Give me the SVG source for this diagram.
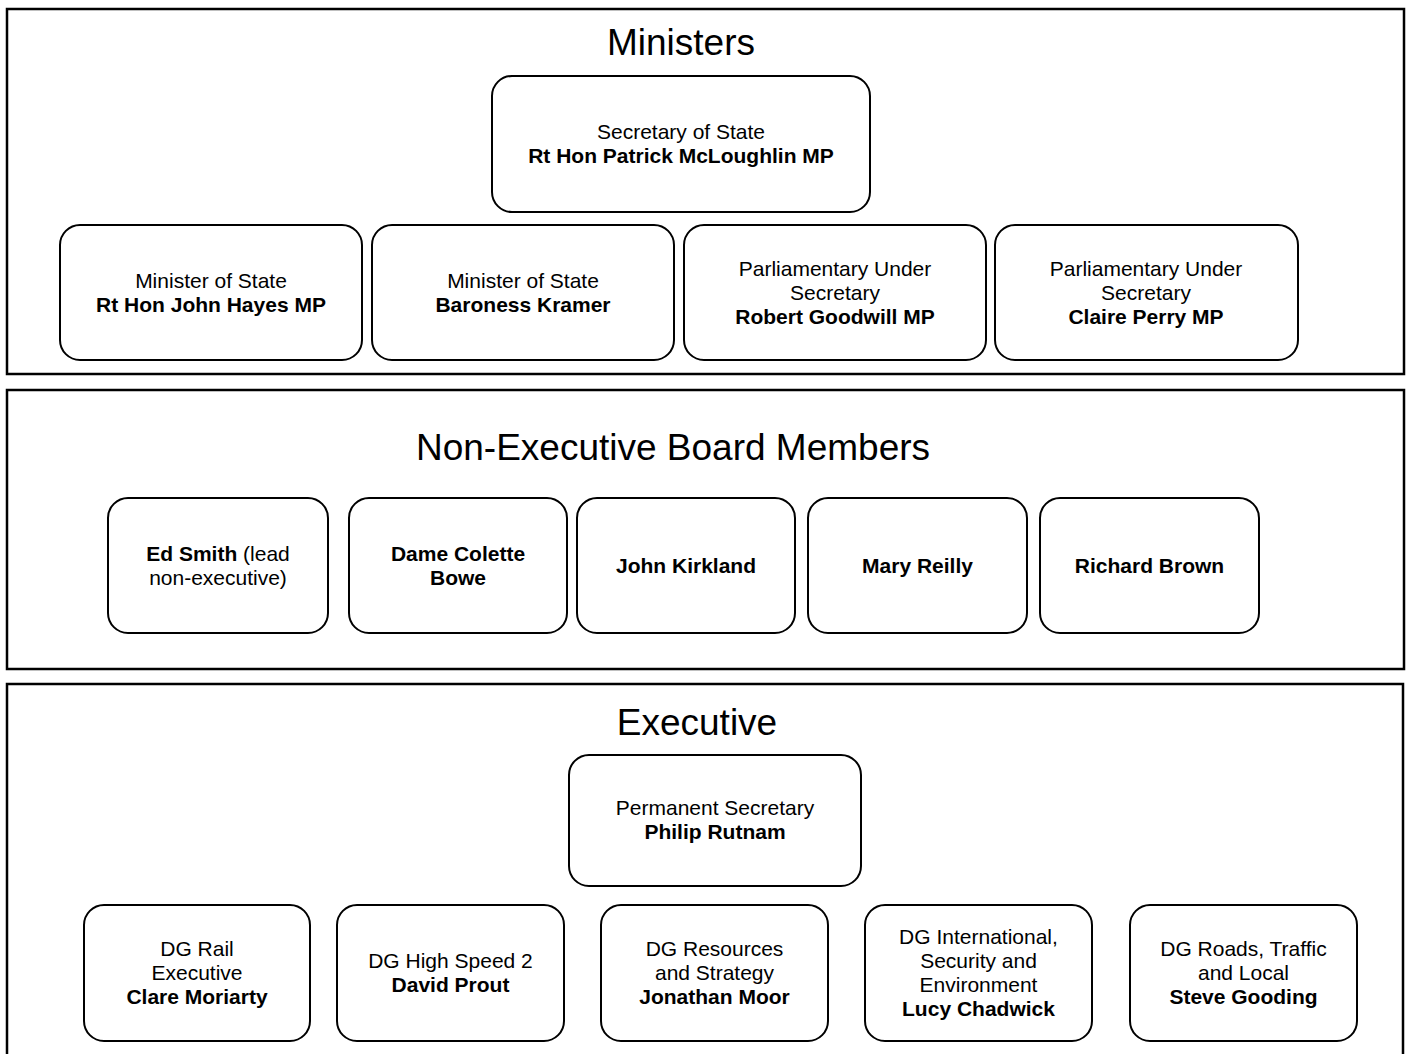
<svg xmlns="http://www.w3.org/2000/svg" width="1410" height="1054" viewBox="0 0 1410 1054">
<style>
.frame{fill:#fff;stroke:#000;stroke-width:2.5}
.box{fill:#fff;stroke:#000;stroke-width:2}
text{font-family:"Liberation Sans",Arial,sans-serif;fill:#000;text-anchor:middle}
.title{font-size:37px}
.t{font-size:21px}
.b{font-weight:bold}
</style>
<rect width="1410" height="1054" fill="#fff"/>
<g id="frames">
<rect class="frame" x="7" y="9" width="1397" height="365"/>
<rect class="frame" x="7" y="390" width="1397" height="279"/>
<rect class="frame" x="7" y="684" width="1396" height="400"/>
<text class="title" x="681" y="55">Ministers</text>
<text class="title" x="673" y="460">Non-Executive Board Members</text>
<text class="title" x="697" y="735">Executive</text>
</g>
<g id="connectors"></g>
<g id="sos"><rect class="box" x="492" y="76" width="378" height="136" rx="20"/>
<text class="t" x="681" y="139">Secretary of State</text><text class="t b" x="681" y="163">Rt Hon Patrick McLoughlin MP</text></g>
<g id="hayes"><rect class="box" x="60" y="225" width="302" height="135" rx="20"/>
<text class="t" x="211" y="288">Minister of State</text><text class="t b" x="211" y="312">Rt Hon John Hayes MP</text></g>
<g id="kramer"><rect class="box" x="372" y="225" width="302" height="135" rx="20"/>
<text class="t" x="523" y="288">Minister of State</text><text class="t b" x="523" y="312">Baroness Kramer</text></g>
<g id="goodwill"><rect class="box" x="684" y="225" width="302" height="135" rx="20"/>
<text class="t" x="835" y="276">Parliamentary Under</text><text class="t" x="835" y="300">Secretary</text><text class="t b" x="835" y="324">Robert Goodwill MP</text></g>
<g id="perry"><rect class="box" x="995" y="225" width="303" height="135" rx="20"/>
<text class="t" x="1146" y="276">Parliamentary Under</text><text class="t" x="1146" y="300">Secretary</text><text class="t b" x="1146" y="324">Claire Perry MP</text></g>
<g id="smith"><rect class="box" x="108" y="498" width="220" height="135" rx="20"/>
<text class="t" x="218" y="561"><tspan class="b">Ed Smith</tspan> (lead</text><text class="t" x="218" y="585">non-executive)</text></g>
<g id="bowe"><rect class="box" x="349" y="498" width="218" height="135" rx="20"/>
<text class="t b" x="458" y="561">Dame Colette</text><text class="t b" x="458" y="585">Bowe</text></g>
<g id="kirkland"><rect class="box" x="577" y="498" width="218" height="135" rx="20"/>
<text class="t b" x="686" y="573">John Kirkland</text></g>
<g id="reilly"><rect class="box" x="808" y="498" width="219" height="135" rx="20"/>
<text class="t b" x="917.5" y="573">Mary Reilly</text></g>
<g id="brown"><rect class="box" x="1040" y="498" width="219" height="135" rx="20"/>
<text class="t b" x="1149.5" y="573">Richard Brown</text></g>
<g id="permsec"><rect class="box" x="569" y="755" width="292" height="131" rx="20"/>
<text class="t" x="715" y="815">Permanent Secretary</text><text class="t b" x="715" y="839">Philip Rutnam</text></g>
<g id="moriarty"><rect class="box" x="84" y="905" width="226" height="136" rx="20"/>
<text class="t" x="197" y="956">DG Rail</text><text class="t" x="197" y="980">Executive</text><text class="t b" x="197" y="1004">Clare Moriarty</text></g>
<g id="prout"><rect class="box" x="337" y="905" width="227" height="136" rx="20"/>
<text class="t" x="450.5" y="968">DG High Speed 2</text><text class="t b" x="450.5" y="992">David Prout</text></g>
<g id="moor"><rect class="box" x="601" y="905" width="227" height="136" rx="20"/>
<text class="t" x="714.5" y="956">DG Resources</text><text class="t" x="714.5" y="980">and Strategy</text><text class="t b" x="714.5" y="1004">Jonathan Moor</text></g>
<g id="chadwick"><rect class="box" x="865" y="905" width="227" height="136" rx="20"/>
<text class="t" x="978.5" y="944">DG International,</text><text class="t" x="978.5" y="968">Security and</text><text class="t" x="978.5" y="992">Environment</text><text class="t b" x="978.5" y="1016">Lucy Chadwick</text></g>
<g id="gooding"><rect class="box" x="1130" y="905" width="227" height="136" rx="20"/>
<text class="t" x="1243.5" y="956">DG Roads, Traffic</text><text class="t" x="1243.5" y="980">and Local</text><text class="t b" x="1243.5" y="1004">Steve Gooding</text></g>
</svg>
